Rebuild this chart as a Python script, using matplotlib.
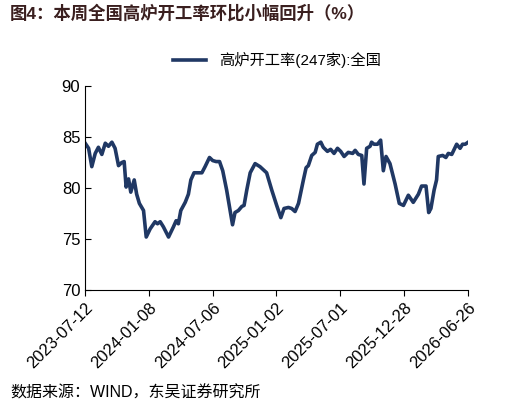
import matplotlib
matplotlib.use("Agg")
import matplotlib.pyplot as plt

plt.rcParams['font.family'] = ['Liberation Sans', 'Noto Sans CJK SC', 'DejaVu Sans']

tick_labels = ["2023-07-12", "2024-01-08", "2024-07-06", "2025-01-02", "2025-07-01", "2025-12-28", "2026-06-26"]
tick_weeks = [0, 26, 52, 78, 104, 130, 156]
weeks = [0,1.4,2.7,4.1,5.4,6.8,8.2,9.5,10.9,12.2,13.6,14.9,15.9,16.7,17.7,18.6,20,21,22.1,23.8,24.9,26.5,28.5,29.5,30.6,31.9,34,36,37.1,38,39,40.8,42.1,43.1,44.4,46.2,47.6,48.9,50.7,52,53.4,54.8,56.1,57.7,60.1,61.1,62.5,63.9,64.8,65.9,67.3,69.3,71.3,74,76.1,78.1,79.8,81.1,82.9,84.2,85.6,87,89,90.1,91,92.4,93.8,94.7,96.1,97.1,98.8,100.1,101.5,102.9,104.2,105.6,107.3,109.1,110.1,111.4,112.8,113.7,114.8,116.2,116.8,117.8,119.2,120.5,121.6,122.7,124.3,126.4,128.1,129.8,131.8,133.8,135.9,137.2,139,140.1,141,142.3,143.3,144,145.8,147.1,148.1,149.5,151.5,152.9,153.9,155,156.2]
values = [84.4,83.9,82.1,83.4,84.0,83.3,84.4,84.1,84.5,83.9,82.2,82.5,82.6,80.1,80.9,79.6,80.8,79.4,78.5,77.8,75.2,76.0,76.7,76.5,76.7,76.2,75.2,76.2,76.8,76.5,77.8,78.6,79.4,80.8,81.5,81.5,81.5,82.1,83.0,82.7,82.6,82.6,81.7,79.8,76.4,77.6,77.8,78.2,78.3,79.8,81.5,82.4,82.1,81.5,79.8,78.3,77.1,78.0,78.1,78.0,77.7,78.5,80.8,82.0,82.2,83.2,83.5,84.3,84.5,84.0,83.6,83.8,83.4,83.9,83.6,83.1,83.5,83.4,83.7,83.3,83.2,80.4,83.9,84.1,84.5,84.3,84.3,84.7,81.7,83.1,82.4,80.4,78.5,78.3,79.3,78.6,79.4,80.2,80.2,77.6,78.0,79.8,80.8,83.1,83.2,83.0,83.4,83.3,84.3,83.9,84.3,84.3,84.5]

fig = plt.figure(figsize=(5.10, 4.12), dpi=100)
ax = fig.add_axes([0.167, 0.296, 0.751, 0.495])
ax.plot(weeks, values, color='#203864', lw=2.6, label='高炉开工率(247家):全国')
ax.set_ylim(70, 90)
ax.set_yticks([70, 75, 80, 85, 90])
ax.set_xlim(0, 156.2)
ax.set_xticks(tick_weeks)
ax.set_xticklabels(tick_labels, rotation=45, ha='right', rotation_mode='anchor')
ax.tick_params(labelsize=12, length=4, direction='in')
ax.tick_params(axis='x', direction='out')
for s in ['top', 'right']:
    ax.spines[s].set_visible(False)
ax.legend(loc='lower center', bbox_to_anchor=(0.5, 1.02), frameon=False, fontsize=11, handlelength=2.2)

fig.text(0.02, 0.955, '图4：本周全国高炉开工率环比小幅回升（%）', fontsize=12.5, fontweight='bold', color='#3a1f1f')
fig.text(0.02, 0.035, '数据来源：WIND，东吴证券研究所', fontsize=11.5)
fig.savefig('out.png', dpi=100)
